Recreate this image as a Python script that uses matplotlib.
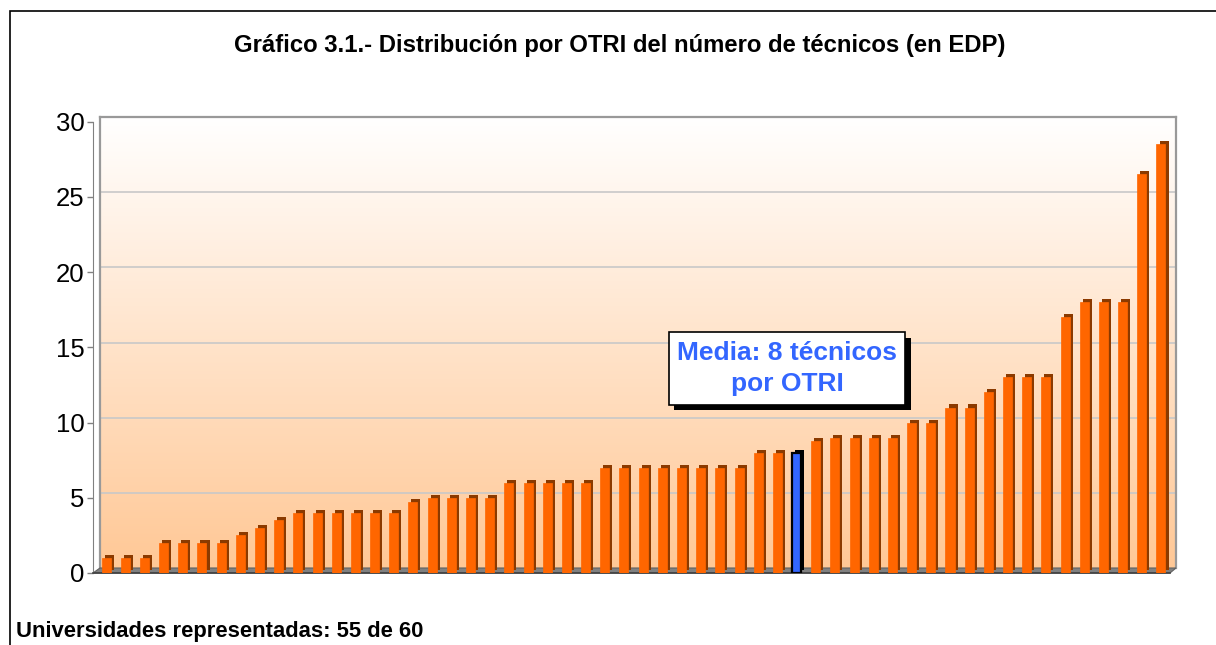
import numpy as np
import matplotlib
matplotlib.use("Agg")
from matplotlib import pyplot as plt
from matplotlib import patheffects as pe
from matplotlib.patches import Polygon, Rectangle

plt.rcParams.update({"font.family": ["Liberation Sans", "DejaVu Sans"]})

# Technicians (EDP) per OTRI, sorted ascending -- 55 universities
tecnicos = [1, 1, 1, 2, 2, 2, 2, 2.5, 3, 3.5,
            4, 4, 4, 4, 4, 4, 4.7, 5, 5, 5,
            5, 6, 6, 6, 6, 6, 7, 7, 7, 7,
            7, 7, 7, 7, 8, 8, 8.8, 9, 9, 9,
            9, 10, 10, 11, 11, 12, 13, 13, 13, 17,
            18, 18, 18, 26.5, 28.5]
media = 8
media_pos = 36  # where the mean bar sits in the sorted row
y_ticks = [0, 5, 10, 15, 20, 25, 30]

title = "Gráfico 3.1.- Distribución por OTRI del número de técnicos (en EDP)"
footer = "Universidades representadas: 55 de 60"
media_label = "Media: 8 técnicos\npor OTRI"

values = tecnicos[:media_pos] + [media] + tecnicos[media_pos:]
colors = ["#FF6600"] * len(values)
colors[media_pos] = "#3366FF"
xs = np.arange(len(values))

W, H = 1216, 645
fig = plt.figure(figsize=(W / 100, H / 100), dpi=100)


def frac(x0, y0, x1, y1):
    # pixel box (top-left origin) -> figure fraction rect
    return [x0 / W, 1 - y1 / H, (x1 - x0) / W, (y1 - y0) / H]


# back wall with gradient and gridlines
wall = fig.add_axes(frac(100, 117, 1176, 568))
grad = np.linspace(0, 1, 256)[:, None]
top_c = np.array([255, 255, 255]) / 255
bot_c = np.array([255, 200, 150]) / 255
img = top_c[None, None, :] * (1 - grad[..., None]) + bot_c[None, None, :] * grad[..., None]
wall.imshow(img, extent=[0, 1, 0, 30], aspect="auto", zorder=0)
wall.set_xlim(0, 1)
wall.set_ylim(0, 30)
for v in y_ticks[1:-1]:
    wall.axhline(v, color="#C8C8C8", lw=1.2, zorder=1)
wall.set_xticks([])
wall.set_yticks([])
for side in ["top", "left", "right"]:
    wall.spines[side].set_color("#999999")
    wall.spines[side].set_linewidth(1.6)
wall.spines["bottom"].set_visible(False)

# floor strip between front edge and wall
fig.patches.append(Polygon(
    [(93 / W, 1 - 573 / H), (1170 / W, 1 - 573 / H),
     (1176 / W, 1 - 568 / H), (100 / W, 1 - 568 / H)],
    closed=True, transform=fig.transFigure, facecolor="#808080",
    edgecolor="#606060", lw=0.8, zorder=2))

# front axes with bars
ax = fig.add_axes(frac(93, 121.7, 1170, 573))
ax.patch.set_visible(False)
ax.set_zorder(3)
bars = ax.bar(xs, values, width=0.47, color=colors, zorder=3,
              edgecolor=colors, linewidth=0.5)
for b, c in zip(bars, colors):
    side = "#8B3A00" if c == "#FF6600" else "#000000"
    b.set_path_effects([pe.SimplePatchShadow(offset=(2.2, 2.2),
                                             shadow_rgbFace=side, alpha=1),
                        pe.Normal()])
bars[media_pos].set_edgecolor("black")
bars[media_pos].set_linewidth(1.6)

ax.set_xlim(-0.68, len(values) - 1 + 0.47)
ax.set_ylim(0, 30)
ax.set_yticks(y_ticks)
ax.set_yticklabels([str(t) for t in y_ticks], fontsize=18.5)
ax.tick_params(axis="y", direction="out", length=4, width=1, color="#808080", pad=2)
ax.set_xticks([])
for side in ["top", "right"]:
    ax.spines[side].set_visible(False)
ax.spines["left"].set_color("#808080")
ax.spines["bottom"].set_color("#404040")
ax.spines["bottom"].set_linewidth(1.2)

ax.text(media_pos - 0.5, 13.6, media_label, ha="center", va="center",
        fontsize=19, fontweight="bold", color="#3366FF", linespacing=1.4,
        zorder=5,
        bbox=dict(boxstyle="square,pad=0.32", facecolor="white",
                  edgecolor="black", lw=1.2))
t = ax.texts[-1]
t.get_bbox_patch().set_path_effects([
    pe.SimplePatchShadow(offset=(3.8, -4.2), shadow_rgbFace="black", alpha=1),
    pe.Normal()])

fig.text(620 / W, 1 - 52 / H, title, ha="center", va="baseline",
         fontsize=17.2, fontweight="bold")
fig.text(16 / W, 1 - 637 / H, footer, ha="left", va="baseline",
         fontsize=15.8, fontweight="bold")

# outer frame
fig.patches.append(Rectangle((10 / W, -0.05), 1.2, 1 - 11 / H + 0.05,
                             transform=fig.transFigure, fill=False,
                             edgecolor="black", lw=1.2))

fig.savefig("out.png", dpi=100)
